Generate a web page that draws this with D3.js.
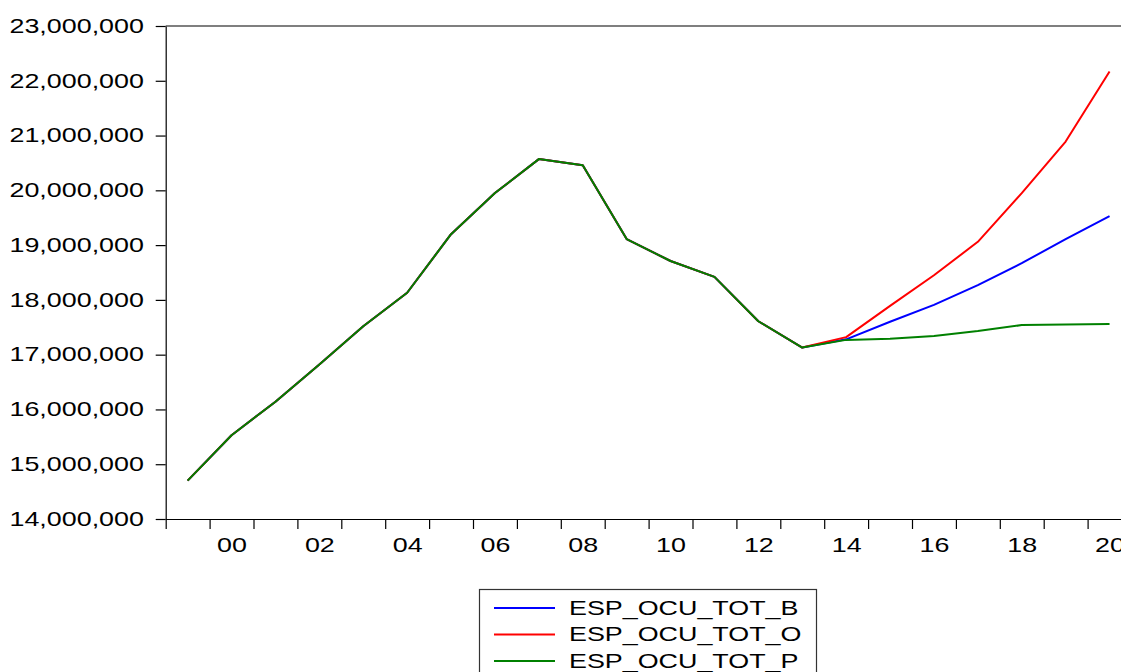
<!DOCTYPE html>
<html>
<head>
<meta charset="utf-8">
<script src="https://cdn.jsdelivr.net/npm/d3@7"></script>
<style>
  html, body { margin: 0; padding: 0; background: #fff; overflow: hidden; }
  svg { display: block; font-family: "Liberation Sans", Arial, sans-serif; }
</style>
</head>
<body>
<script>
// ---- data ----
const years = [1999,2000,2001,2002,2003,2004,2005,2006,2007,2008,2009,2010,2011,2012,2013,2014,2015,2016,2017,2018,2019,2020];
const esp_ocu_tot_b = [14.70,15.53,16.14,16.82,17.52,18.13,19.20,19.95,20.57,20.46,19.11,18.71,18.42,17.61,17.13,17.28,17.60,17.91,18.27,18.67,19.11,19.53].map(v => v*1e6);
const esp_ocu_tot_o = [14.70,15.53,16.14,16.82,17.52,18.13,19.20,19.95,20.57,20.46,19.11,18.71,18.42,17.61,17.13,17.32,17.89,18.45,19.06,19.95,20.89,22.17].map(v => v*1e6);
const esp_ocu_tot_p = [14.70,15.53,16.14,16.82,17.52,18.13,19.20,19.95,20.57,20.46,19.11,18.71,18.42,17.61,17.13,17.27,17.29,17.34,17.43,17.54,17.55,17.56].map(v => v*1e6);
const seriesNames = ["ESP_OCU_TOT_B","ESP_OCU_TOT_O","ESP_OCU_TOT_P"];
const seriesColors = ["#0000ff","#ff0000","#008000"];
const yTicks = [14e6,15e6,16e6,17e6,18e6,19e6,20e6,21e6,22e6,23e6];
const xLabelYears = [2000,2002,2004,2006,2008,2010,2012,2014,2016,2018,2020];

// ---- layout ----
const W = 1121, H = 672;
const x0 = 165.7, yearW = 43.9;
const yTop = 26, yBot = 519;
const SX = 1.28;

const svg = d3.select("body").append("svg").attr("width", W).attr("height", H);

const x = d3.scaleLinear().domain([1999, 2021]).range([x0, x0 + 22*yearW]);
const y = d3.scaleLinear().domain([14e6, 23e6]).range([yBot, yTop]);

// top frame
svg.append("line").attr("x1", x0).attr("x2", x(2021)).attr("y1", yTop).attr("y2", yTop)
  .attr("stroke", "#000").attr("stroke-width", 1.2);

// y axis
const yAxis = svg.append("g").attr("transform", `translate(${x0},0)`)
  .call(d3.axisLeft(y).tickValues(yTicks).tickSize(10).tickSizeOuter(0).tickPadding(17)
    .tickFormat(d3.format(",")));
yAxis.selectAll("path, line").attr("stroke", "#000").attr("stroke-width", 1.2);
yAxis.selectAll("text").attr("font-size", 21).attr("fill", "#000")
  .attr("font-family", "Liberation Sans, Arial, sans-serif")
  .attr("dy", "0.30em")
  .attr("transform", `scale(${SX},1)`)
  .attr("x", -17);

// x axis ticks (year boundaries)
const xTicksAll = d3.range(1999, 2022);
const xAxis = svg.append("g").attr("transform", `translate(0,${yBot})`)
  .call(d3.axisBottom(x).tickValues(xTicksAll).tickSize(10).tickSizeOuter(0).tickFormat(""));
xAxis.selectAll("path, line").attr("stroke", "#000").attr("stroke-width", 1.2);

// x labels at mid-year
const xLab = svg.append("g").attr("transform", `translate(0,${yBot})`)
  .call(d3.axisBottom(x).tickValues(xLabelYears.map(v => v + 0.5)).tickSize(0).tickPadding(18)
    .tickFormat(d => String(Math.floor(d) % 100).padStart(2, "0")));
xLab.select(".domain").remove();
xLab.selectAll("text").attr("font-size", 21).attr("fill", "#000")
  .attr("font-family", "Liberation Sans, Arial, sans-serif")
  .attr("transform", `scale(${SX},1)`);

// lines
const allSeries = [esp_ocu_tot_b, esp_ocu_tot_o, esp_ocu_tot_p];
const line = d3.line().x((d, i) => x(years[i] + 0.5)).y(d => y(d));
allSeries.forEach((s, k) => {
  svg.append("path").datum(s).attr("d", line)
    .attr("fill", "none").attr("stroke", seriesColors[k]).attr("stroke-width", 2)
    .attr("stroke-linejoin", "round");
});

// legend
const lg = svg.append("g");
lg.append("rect").attr("x", 479.5).attr("y", 589.5).attr("width", 337).attr("height", 100)
  .attr("fill", "#fff").attr("stroke", "#333").attr("stroke-width", 1.2);
seriesNames.forEach((nm, k) => {
  const by = 614.5 + k * 26.5;
  lg.append("line").attr("x1", 494).attr("x2", 555).attr("y1", by - 6.5).attr("y2", by - 6.5)
    .attr("stroke", seriesColors[k]).attr("stroke-width", 2);
  lg.append("text").attr("transform", `translate(569,${by}) scale(${SX},1)`)
    .attr("font-size", 21).attr("fill", "#000").text(nm);
});
</script>
</body>
</html>
